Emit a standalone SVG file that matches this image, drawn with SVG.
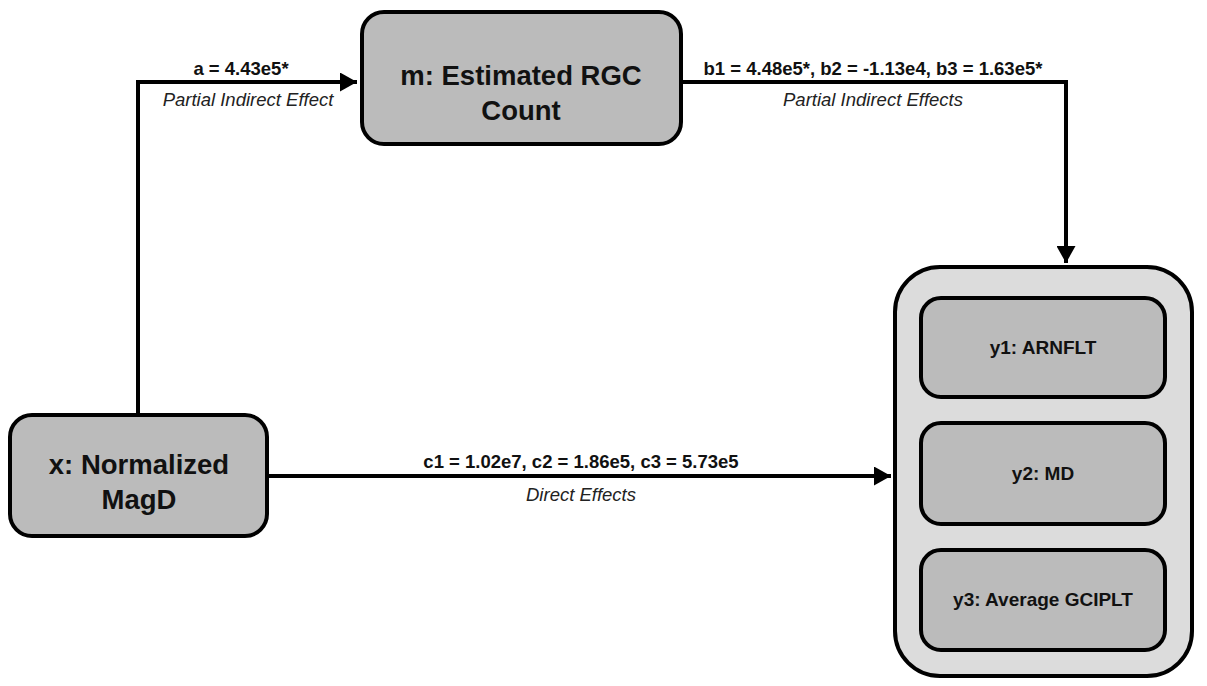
<svg xmlns="http://www.w3.org/2000/svg" width="1207" height="686" viewBox="0 0 1207 686">
  <style>
    .box { fill: #bbbbbb; stroke: #000; stroke-width: 4; }
    .outer { fill: #dcdcdc; stroke: #000; stroke-width: 4; }
    .title { font-family: "Liberation Sans", Arial, sans-serif; font-weight: bold; font-size: 27.5px; text-anchor: middle; fill: #111; }
    .ylab { font-family: "Liberation Sans", Arial, sans-serif; font-weight: bold; font-size: 19px; text-anchor: middle; fill: #111; }
    .coef { font-family: "Liberation Sans", Arial, sans-serif; font-weight: bold; font-size: 18.5px; text-anchor: middle; fill: #111; }
    .eff { font-family: "Liberation Sans", Arial, sans-serif; font-style: italic; font-size: 18.5px; text-anchor: middle; fill: #222; }
    .conn { fill: none; stroke: #000; stroke-width: 4; }
  </style>
  <defs>
    <marker id="arrow" markerUnits="userSpaceOnUse" markerWidth="17" markerHeight="19" viewBox="0 0 17 19" refX="17" refY="9.5" orient="auto">
      <path d="M0,0 L17,9.5 L0,19 Z" fill="#000"/>
    </marker>
  </defs>

  <rect width="1207" height="686" fill="#ffffff"/>

  <!-- connectors -->
  <g id="connectors">
    <path class="conn" d="M138,413 V82 H357" marker-end="url(#arrow)"/>
    <path class="conn" d="M683,82 H1066 V263" marker-end="url(#arrow)"/>
    <path class="conn" d="M269,476 H891" marker-end="url(#arrow)"/>
    <text class="coef" x="241" y="75">a = 4.43e5*</text>
    <text class="eff" x="248" y="106">Partial Indirect Effect</text>
    <text class="coef" x="873" y="75">b1 = 4.48e5*, b2 = -1.13e4, b3 = 1.63e5*</text>
    <text class="eff" x="873" y="106">Partial Indirect Effects</text>
    <text class="coef" x="581" y="468">c1 = 1.02e7, c2 = 1.86e5, c3 = 5.73e5</text>
    <text class="eff" x="581" y="501">Direct Effects</text>
  </g>

  <!-- mediator -->
  <g id="node-m">
    <rect class="box" x="362" y="12" width="319" height="132" rx="22"/>
    <text class="title" x="521" y="85">m: Estimated RGC</text>
    <text class="title" x="521" y="120">Count</text>
  </g>

  <!-- predictor -->
  <g id="node-x">
    <rect class="box" x="10" y="415" width="257" height="121" rx="22"/>
    <text class="title" x="139" y="474">x: Normalized</text>
    <text class="title" x="139" y="509">MagD</text>
  </g>

  <!-- outcomes -->
  <g id="node-y">
    <rect class="outer" x="895" y="267" width="297" height="409" rx="45"/>
    <g id="node-y1">
      <rect class="box" x="921" y="298" width="244" height="99" rx="20"/>
      <text class="ylab" x="1043" y="354">y1: ARNFLT</text>
    </g>
    <g id="node-y2">
      <rect class="box" x="921" y="423" width="244" height="101" rx="20"/>
      <text class="ylab" x="1043" y="480">y2: MD</text>
    </g>
    <g id="node-y3">
      <rect class="box" x="921" y="550" width="244" height="100" rx="20"/>
      <text class="ylab" x="1043" y="606">y3: Average GCIPLT</text>
    </g>
  </g>
</svg>
